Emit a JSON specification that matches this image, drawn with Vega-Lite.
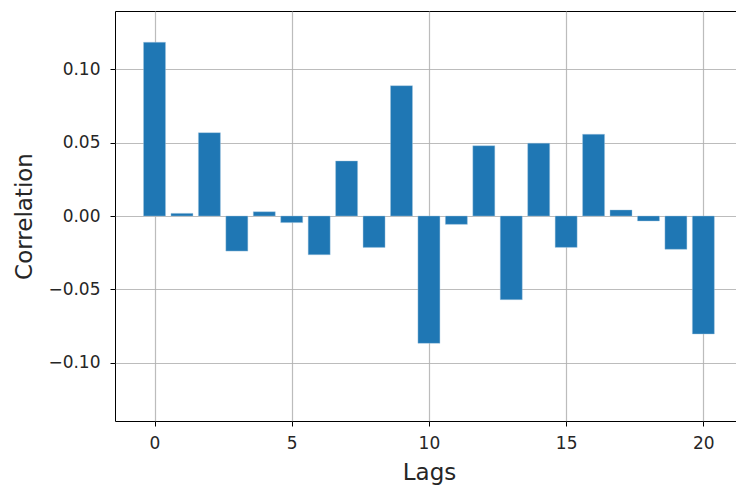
{
  "$schema": "https://vega.github.io/schema/vega-lite/v6.json",
  "width": 621,
  "height": 410,
  "autosize": "none",
  "padding": {"left": 115, "top": 11, "right": 0, "bottom": 66},
  "background": "white",
  "config": {
    "view": {"stroke": "#000000", "strokeWidth": 1},
    "font": "DejaVu Sans",
    "axis": {
      "domain": false,
      "grid": true,
      "gridColor": "#b0b0b0",
      "gridWidth": 1.2,
      "gridOpacity": 0.85,
      "tickColor": "#000000",
      "tickSize": 5,
      "tickWidth": 1,
      "labelColor": "#262626",
      "labelFont": "DejaVu Sans",
      "labelFontSize": 17,
      "titleFont": "DejaVu Sans",
      "titleFontSize": 23,
      "titleFontWeight": "normal",
      "titleColor": "#262626",
      "zindex": 1
    }
  },
  "data": {
    "values": [
      {"lag": 0, "corr": 0.1184},
      {"lag": 1, "corr": 0.0018},
      {"lag": 2, "corr": 0.0568},
      {"lag": 3, "corr": -0.0239},
      {"lag": 4, "corr": 0.0029},
      {"lag": 5, "corr": -0.0045},
      {"lag": 6, "corr": -0.0264},
      {"lag": 7, "corr": 0.0375},
      {"lag": 8, "corr": -0.0214},
      {"lag": 9, "corr": 0.0888},
      {"lag": 10, "corr": -0.0868},
      {"lag": 11, "corr": -0.0057},
      {"lag": 12, "corr": 0.0479},
      {"lag": 13, "corr": -0.057},
      {"lag": 14, "corr": 0.0496},
      {"lag": 15, "corr": -0.0214},
      {"lag": 16, "corr": 0.0557},
      {"lag": 17, "corr": 0.0041},
      {"lag": 18, "corr": -0.0034},
      {"lag": 19, "corr": -0.0227},
      {"lag": 20, "corr": -0.0804}
    ]
  },
  "mark": {"type": "bar", "size": 22, "color": "#1f77b4", "stroke": "#a6c8e0", "strokeWidth": 0.6, "strokeOpacity": 0.7},
  "encoding": {
    "x": {
      "field": "lag",
      "type": "quantitative",
      "scale": {"domain": [-1.44, 21.19], "nice": false, "zero": false, "padding": 0},
      "axis": {"values": [0, 5, 10, 15, 20], "format": "d", "title": "Lags", "labelPadding": 9, "titlePadding": 10, "titleX": 314}
    },
    "y": {
      "field": "corr",
      "type": "quantitative",
      "scale": {"domain": [-0.1397, 0.1397], "nice": false, "padding": 0},
      "axis": {"values": [-0.1, -0.05, 0, 0.05, 0.1], "format": ".2f", "title": "Correlation", "labelPadding": 10, "titlePadding": 11}
    }
  }
}
